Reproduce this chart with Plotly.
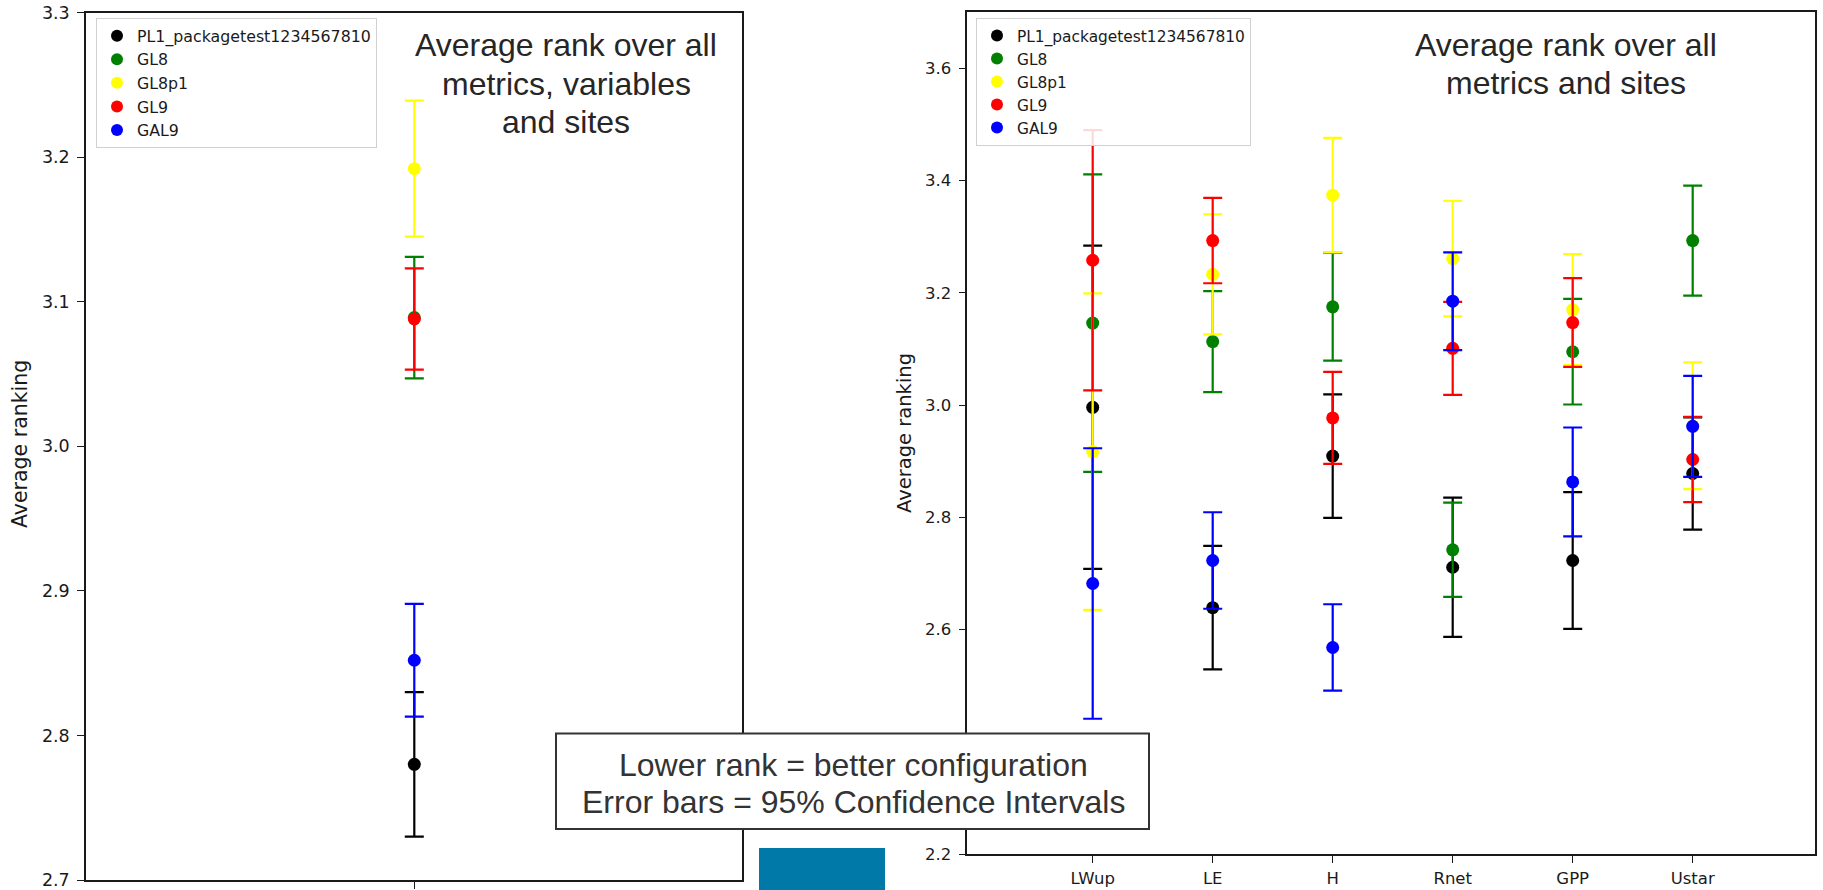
import plotly.graph_objects as go

W, H = 1823, 890

# ---------------- data ----------------
series = ["PL1_packagetest1234567810", "GL8", "GL8p1", "GL9", "GAL9"]
colors = ["black", "green", "yellow", "red", "blue"]

overall_cat = ["all"]
overall_mean = [2.780, 3.089, 3.192, 3.088, 2.852]
overall_ci = [0.050, 0.042, 0.047, 0.035, 0.039]

variables = ["LWup", "LE", "H", "Rnet", "GPP", "Ustar"]
mean_PL1 = [2.996, 2.639, 2.909, 2.711, 2.723, 2.878]
ci_PL1 = [0.288, 0.110, 0.110, 0.124, 0.122, 0.100]
mean_GL8 = [3.146, 3.113, 3.175, 2.742, 3.095, 3.293]
ci_GL8 = [0.265, 0.090, 0.096, 0.084, 0.094, 0.098]
mean_GL8p1 = [2.917, 3.233, 3.374, 3.261, 3.170, 2.963]
ci_GL8p1 = [0.282, 0.107, 0.102, 0.103, 0.099, 0.113]
mean_GL9 = [3.258, 3.293, 2.977, 3.101, 3.147, 2.903]
ci_GL9 = [0.232, 0.076, 0.082, 0.083, 0.079, 0.076]
mean_GAL9 = [2.682, 2.723, 2.568, 3.185, 2.863, 2.962]
ci_GAL9 = [0.241, 0.086, 0.077, 0.087, 0.097, 0.090]

var_means = [mean_PL1, mean_GL8, mean_GL8p1, mean_GL9, mean_GAL9]
var_cis = [ci_PL1, ci_GL8, ci_GL8p1, ci_GL9, ci_GAL9]

left_ticks = [2.7, 2.8, 2.9, 3.0, 3.1, 3.2, 3.3]
right_ticks = [2.2, 2.6, 2.8, 3.0, 3.2, 3.4, 3.6]   # 2.4 lies hidden under the note box

title_left = ["Average rank over all", "metrics, variables", "and sites"]
title_right = ["Average rank over all", "metrics and sites"]
note_lines = ["Lower rank = better configuration", "Error bars = 95% Confidence Intervals"]

# ---------------- figure ----------------
fig = go.Figure()

for i, (name, col) in enumerate(zip(series, colors)):
    fig.add_trace(go.Scatter(
        x=overall_cat, y=[overall_mean[i]], mode="markers", name=name,
        marker=dict(color=col, size=13),
        error_y=dict(type="data", array=[overall_ci[i]], color=col, thickness=2.2, width=9.5),
        xaxis="x", yaxis="y", legend="legend", legendgroup="L%d" % i,
    ))

for i, (name, col) in enumerate(zip(series, colors)):
    fig.add_trace(go.Scatter(
        x=variables, y=var_means[i], mode="markers", name=name,
        marker=dict(color=col, size=13),
        error_y=dict(type="data", array=var_cis[i], color=col, thickness=2.2, width=9.5),
        xaxis="x2", yaxis="y2", legend="legend2", legendgroup="R%d" % i,
    ))

def px_x(p):
    return p / W

def px_y(p):
    return 1 - p / H

axis_common = dict(showline=True, linecolor="#1a1a1a", linewidth=1.5, mirror=True,
                   ticks="outside", ticklen=7, tickwidth=1.3, tickcolor="#1a1a1a",
                   showgrid=False, zeroline=False, automargin=False,
                   ticklabeloverflow="allow")

tick_font_l = dict(family="DejaVu Sans", size=17.5, color="#1a1a1a")
tick_font_r = dict(family="DejaVu Sans", size=16.5, color="#1a1a1a")

fig.update_layout(
    width=W, height=H,
    margin=dict(l=0, r=0, t=0, b=0, pad=0, autoexpand=False),
    paper_bgcolor="white", plot_bgcolor="white",
    showlegend=True,
    xaxis=dict(domain=[px_x(86), px_x(741.5)], type="category", range=[-3.283, 3.272],
               showticklabels=False, **axis_common),
    yaxis=dict(domain=[px_y(880), px_y(12.5)], range=[2.7, 3.3],
               tickvals=left_ticks, ticktext=["%.1f" % v for v in left_ticks],
               tickfont=tick_font_l, ticklabelstandoff=4, **axis_common),
    xaxis2=dict(domain=[px_x(967.3), px_x(1814.5)], type="category",
                range=[-1.045, 6.015], tickfont=tick_font_r, anchor="y2",
                ticklabelstandoff=1, **axis_common),
    yaxis2=dict(domain=[px_y(854), px_y(12.2)], range=[2.2, 3.7], anchor="x2",
                tickvals=right_ticks, ticktext=["%.1f" % v for v in right_ticks],
                tickfont=tick_font_r, ticklabelstandoff=4, **axis_common),
    legend=dict(x=px_x(96), y=px_y(18), xanchor="left", yanchor="top",
                bgcolor="rgba(255,255,255,0.85)", bordercolor="#d0d0d0", borderwidth=1,
                font=dict(family="DejaVu Sans", size=15.8, color="#1a1a1a"),
                tracegroupgap=0, traceorder="grouped", itemsizing="constant"),
    legend2=dict(x=px_x(976), y=px_y(18), xanchor="left", yanchor="top",
                 bgcolor="rgba(255,255,255,0.85)", bordercolor="#d0d0d0", borderwidth=1,
                 font=dict(family="DejaVu Sans", size=15.4, color="#1a1a1a"),
                 tracegroupgap=0, traceorder="grouped", itemsizing="constant"),
)

annotations = []
# y-axis labels
annotations.append(dict(text="Average ranking", x=px_x(20), y=px_y(444), xref="paper", yref="paper",
                        showarrow=False, textangle=-90, xanchor="center", yanchor="middle",
                        font=dict(family="DejaVu Sans", size=20.5, color="#1a1a1a")))
annotations.append(dict(text="Average ranking", x=px_x(904), y=px_y(433), xref="paper", yref="paper",
                        showarrow=False, textangle=-90, xanchor="center", yanchor="middle",
                        font=dict(family="DejaVu Sans", size=19.5, color="#1a1a1a")))

title_font = dict(family="Liberation Sans", size=32, color="#262626")
for k, line in enumerate(title_left):
    annotations.append(dict(text=line, x=px_x(566), y=px_y(45 + 38.5 * k), xref="paper", yref="paper",
                            showarrow=False, xanchor="center", yanchor="middle", font=title_font))
for k, line in enumerate(title_right):
    annotations.append(dict(text=line, x=px_x(1566), y=px_y(45.5 + 37.5 * k), xref="paper", yref="paper",
                            showarrow=False, xanchor="center", yanchor="middle", font=title_font))

note_font = dict(family="Liberation Sans", size=32, color="#333333")
for k, line in enumerate(note_lines):
    annotations.append(dict(text=line, x=px_x(853), y=px_y(765 + 37 * k), xref="paper", yref="paper",
                            showarrow=False, xanchor="center", yanchor="middle", font=note_font))

fig.update_layout(annotations=annotations)

fig.update_layout(shapes=[
    dict(type="rect", xref="paper", yref="paper", layer="above",
         x0=px_x(556), x1=px_x(1149), y0=px_y(829), y1=px_y(733.5),
         line=dict(color="#333333", width=2), fillcolor="white"),
    dict(type="rect", xref="paper", yref="paper", layer="above",
         x0=px_x(759), x1=px_x(885), y0=px_y(890), y1=px_y(848),
         line=dict(width=0), fillcolor="#0079A8"),
])

fig.write_html("out.html", config={"displayModeBar": False},
               post_script="document.body.style.margin='0px';document.body.style.overflow='hidden';")
